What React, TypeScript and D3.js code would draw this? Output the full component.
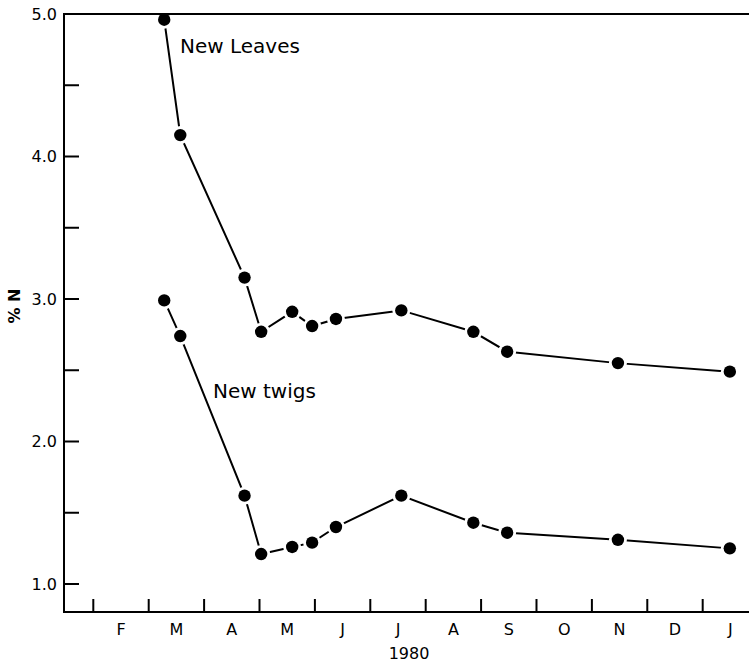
import React from "react";
import * as d3 from "d3";

// ---- data ----
const MONTH_LABELS = ["F", "M", "A", "M", "J", "J", "A", "S", "O", "N", "D", "J"];
const MONTH_TICKS = [1, 2, 3, 4, 5, 6, 7, 8, 9, 10, 11, 12]; // month starts (0 = Jan 1 1980)
const SAMPLE_MONTHS = [2.28, 2.57, 3.73, 4.03, 4.59, 4.95, 5.38, 6.56, 7.86, 8.47, 10.47, 12.49];
const NEW_LEAVES = [4.96, 4.15, 3.15, 2.77, 2.91, 2.81, 2.86, 2.92, 2.77, 2.63, 2.55, 2.49];
const NEW_TWIGS = [2.99, 2.74, 1.62, 1.21, 1.26, 1.29, 1.4, 1.62, 1.43, 1.36, 1.31, 1.25];
const Y_TICKS = [1.0, 1.5, 2.0, 2.5, 3.0, 3.5, 4.0, 4.5, 5.0];
const Y_LABELS = [1.0, 2.0, 3.0, 4.0, 5.0];

const FONT = "'DejaVu Sans', 'Liberation Sans', sans-serif";

export default function App() {
  const W = 749;
  const H = 667;
  const left = 64;
  const right = 749;
  const top = 14;
  const bottom = 612;

  const x = d3.scaleLinear().domain([0.471, 12.836]).range([left, right]);
  const y = d3.scaleLinear().domain([0.8035, 5.0]).range([bottom, top]);

  const line = d3
    .line<[number, number]>()
    .x((d) => x(d[0]))
    .y((d) => y(d[1]));

  const leaves: [number, number][] = SAMPLE_MONTHS.map((m, i) => [m, NEW_LEAVES[i]]);
  const twigs: [number, number][] = SAMPLE_MONTHS.map((m, i) => [m, NEW_TWIGS[i]]);
  const allPts = [...leaves, ...twigs];

  return (
    <div style={{ position: "absolute", left: 0, top: 0 }}>
      <svg width={W} height={H} style={{ display: "block", background: "#fff" }}>
        {/* series lines */}
        <path d={line(leaves) || ""} fill="none" stroke="#000" strokeWidth={2} />
        <path d={line(twigs) || ""} fill="none" stroke="#000" strokeWidth={2} />
        {/* white halos around markers */}
        {allPts.map((p, i) => (
          <circle key={"h" + i} cx={x(p[0])} cy={y(p[1])} r={9} fill="#fff" />
        ))}

        {/* axes frame */}
        <line x1={left} x2={left} y1={top - 1} y2={bottom + 1} stroke="#000" strokeWidth={2} />
        <line x1={left - 1} x2={right} y1={bottom} y2={bottom} stroke="#000" strokeWidth={2} />
        <line x1={left - 1} x2={right} y1={top} y2={top} stroke="#000" strokeWidth={2} />

        {/* y ticks */}
        {Y_TICKS.map((t) => (
          <line key={"yt" + t} x1={left} x2={left + 15} y1={y(t)} y2={y(t)} stroke="#000" strokeWidth={2} />
        ))}
        {Y_LABELS.map((t) => (
          <text
            key={"yl" + t}
            x={left - 7}
            y={y(t)}
            dy="0.36em"
            textAnchor="end"
            fontFamily={FONT}
            fontSize={16}
            fill="#000"
          >
            {t.toFixed(1)}
          </text>
        ))}

        {/* x ticks */}
        {MONTH_TICKS.map((m) => (
          <line key={"xt" + m} x1={x(m)} x2={x(m)} y1={bottom} y2={bottom - 13} stroke="#000" strokeWidth={2} />
        ))}
        {MONTH_TICKS.map((m, i) => (
          <text
            key={"xl" + m}
            x={x(m + 0.5)}
            y={635}
            textAnchor="middle"
            fontFamily={FONT}
            fontSize={16}
            fill="#000"
          >
            {MONTH_LABELS[i]}
          </text>
        ))}
        <text x={409} y={659} textAnchor="middle" fontFamily={FONT} fontSize={16} fill="#000">
          1980
        </text>

        {/* y axis title */}
        <text
          transform="translate(14,306) rotate(-90)"
          textAnchor="middle"
          dy="0.36em"
          fontFamily={FONT}
          fontSize={16}
          fontWeight="bold"
          fill="#000"
        >
          % N
        </text>

        {/* markers */}
        {allPts.map((p, i) => (
          <circle key={"c" + i} cx={x(p[0])} cy={y(p[1])} r={6.2} fill="#000" />
        ))}

        {/* series labels */}
        <text x={180} y={53} fontFamily={FONT} fontSize={20} fill="#000">
          New Leaves
        </text>
        <text x={213} y={398} fontFamily={FONT} fontSize={20} fill="#000">
          New twigs
        </text>
      </svg>
    </div>
  );
}
